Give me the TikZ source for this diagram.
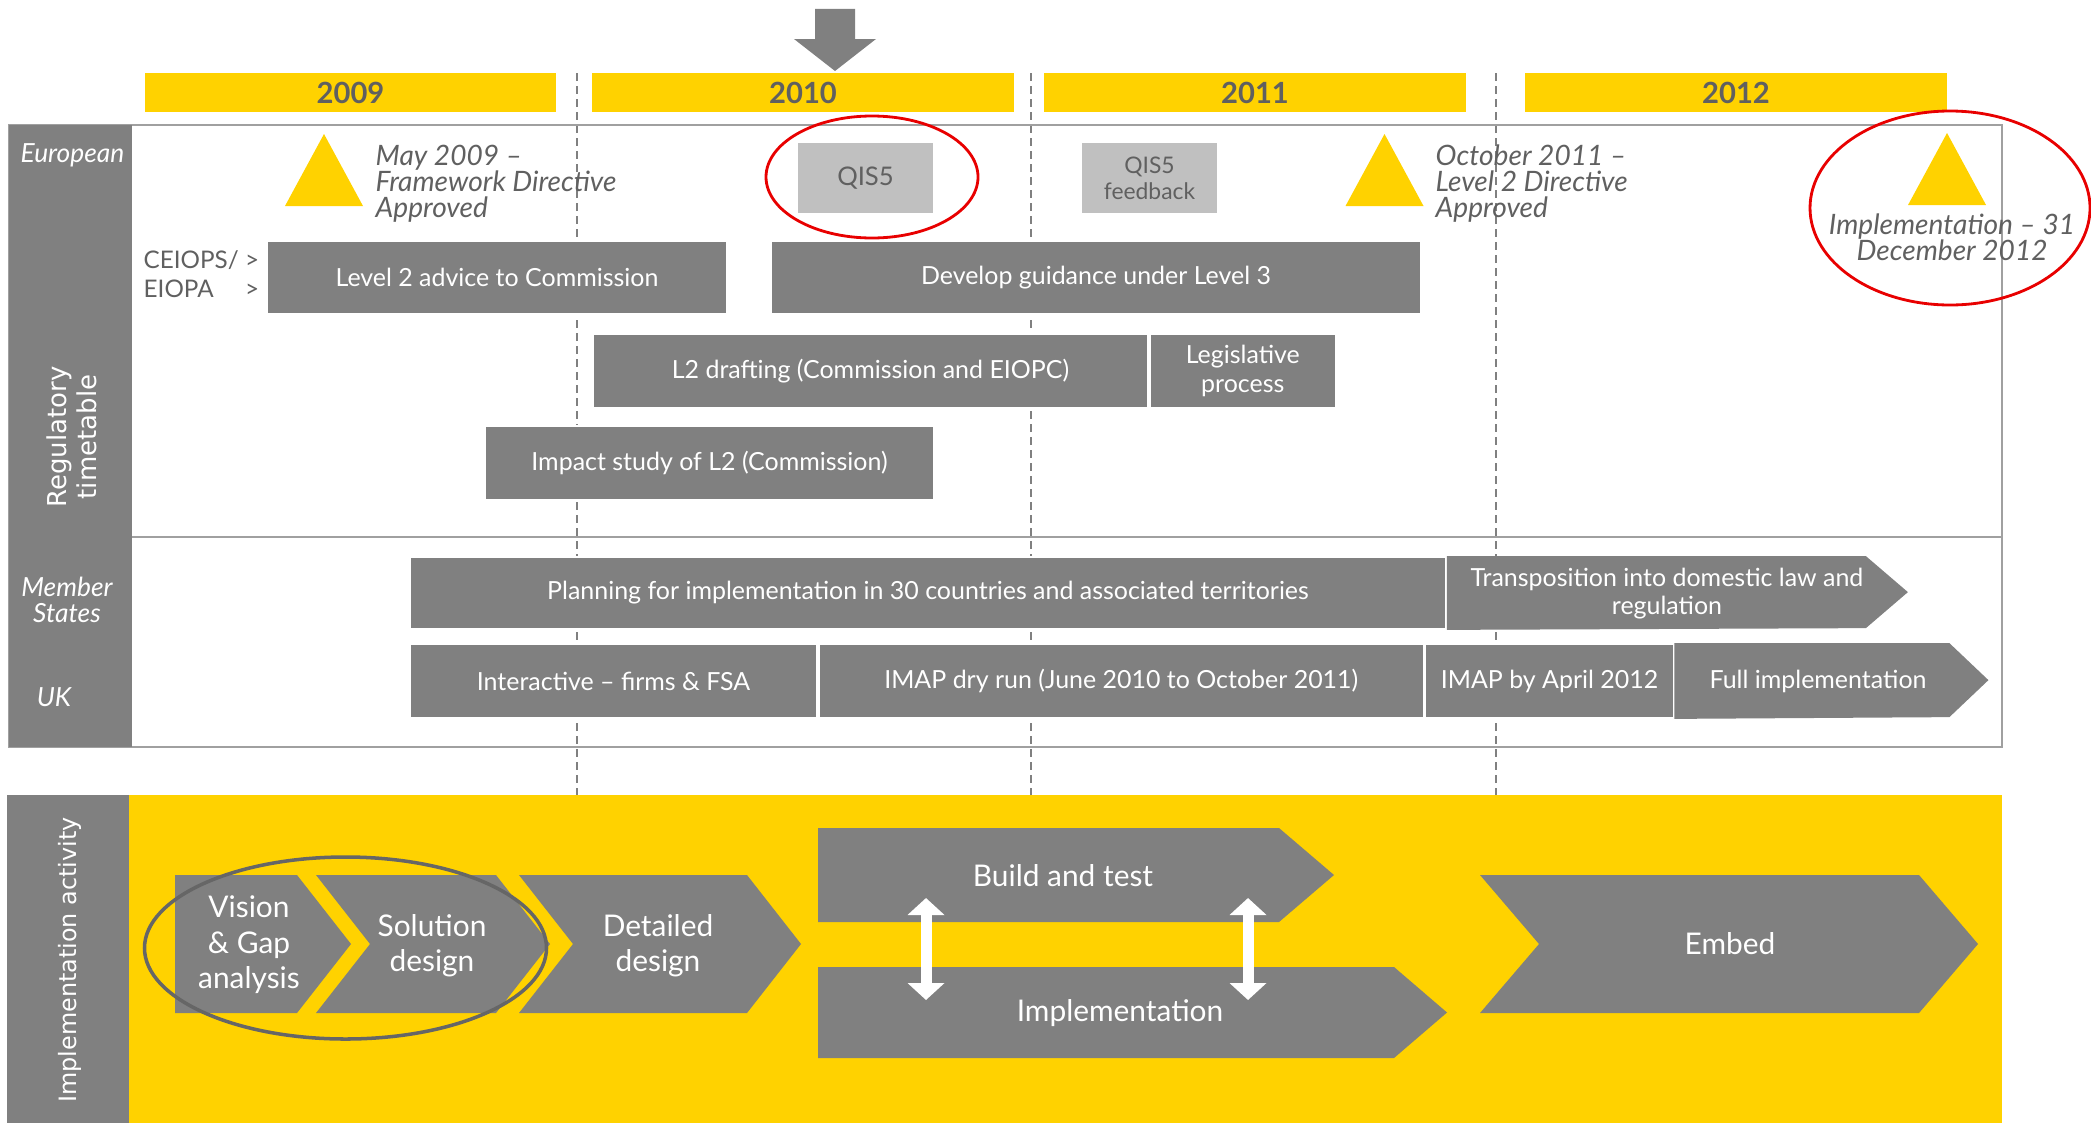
\documentclass[tikz,border=0pt]{standalone}
\usepackage{fontspec}
\setmainfont{Lato}
\newfontfamily\widefont{DejaVu Sans}
\usetikzlibrary{arrows.meta,positioning}

\definecolor{eyyellow}{RGB}{255,210,0}
\definecolor{boxgray}{RGB}{128,128,128}
\definecolor{lightbox}{RGB}{192,192,192}
\definecolor{textgray}{RGB}{96,96,96}
\definecolor{framegray}{RGB}{160,160,160}
\definecolor{ringred}{RGB}{232,0,0}
\definecolor{ringgray}{RGB}{102,102,102}

\begin{document}
\begin{tikzpicture}[
    y=-1cm,
    yearbar/.style={rectangle, fill=eyyellow, text=textgray, font=\fontsize{8.3}{9}\selectfont\bfseries, minimum height=0.39cm, inner sep=0pt},
    bar/.style={rectangle, fill=boxgray, draw=white, line width=0.5pt, text=white, font=\fontsize{7.1}{8.2}\selectfont, align=center, inner sep=0pt},
    bartext/.style={text=white, font=\fontsize{7.1}{8.2}\selectfont, align=center, inner sep=0pt},
    qis/.style={rectangle, fill=lightbox, text=textgray, minimum width=1.35cm, minimum height=0.70cm, align=center, inner sep=0pt},
    milestone/.style={text=textgray, font=\fontsize{8}{7.4}\selectfont\itshape, align=left, anchor=west, inner sep=0pt},
    side/.style={text=white, font=\fontsize{7.5}{7.4}\selectfont\itshape, align=center, inner sep=0pt},
    sidewide/.style={text=white, font=\widefont\fontsize{7.4}{8.5}\selectfont, align=center, rotate=90, inner sep=0pt},
    chev/.style={fill=boxgray},
    chevtext/.style={text=white, font=\fontsize{8.5}{10.1}\selectfont, align=center, inner sep=0pt},
    ring/.style={draw=ringred, line width=0.8pt},
    bothway/.style={draw=white, line width=1.1mm, {Triangle[width=3.6mm,length=1.7mm]}-{Triangle[width=3.6mm,length=1.7mm]}}
]
    \useasboundingbox (0,0) rectangle (20.91,11.23);

    % years
    \fill[boxgray] (8.15,0.09) -- (8.55,0.09) -- (8.55,0.39) -- (8.76,0.39) -- (8.35,0.71) -- (7.94,0.39) -- (8.15,0.39) -- cycle;
    \foreach \yr/\x/\w in {2009/3.505/4.11, 2010/8.03/4.22, 2011/12.55/4.22, 2012/17.36/4.22}
        \node[yearbar, minimum width=\w cm] (y\yr) at (\x,0.925) {\yr};
    \foreach \x in {5.77, 10.31, 14.96}
        \draw[boxgray, line width=0.4pt, dash pattern=on 0.08cm off 0.05cm] (\x,0.73) -- (\x,7.95);

    % regulatory timetable frame
    \draw[framegray, line width=0.6pt] (0.09,1.25) rectangle (20.02,7.47);
    \draw[framegray, line width=0.6pt] (1.32,5.37) -- (20.02,5.37);
    \fill[boxgray] (0.09,1.25) rectangle (1.32,7.47);
    \node[side] (european) at (0.725,1.55) {European};
    \node[sidewide] (regtime) at (0.72,4.37) {Regulatory\\timetable};
    \node[side] (member) at (0.67,6.0) {Member\\States};
    \node[side] (uk) at (0.54,6.97) {UK};

    % milestones
    \foreach \x/\y in {3.24/1.34, 13.845/1.34, 19.47/1.33}
        \fill[eyyellow] (\x,\y) -- ++(0.39,0.72) -- ++(-0.78,0) -- cycle;
    \node[milestone] (may09) at (3.75,1.84) {May 2009 \textendash\\Framework Directive\\Approved};
    \node[milestone] (oct11) at (14.35,1.84) {October 2011 \textendash\\Level 2 Directive\\Approved};
    \node[milestone, anchor=center, align=center] (dec12) at (19.52,2.37) {Implementation \textendash{} 31\\December 2012};
    \node[qis, font=\fontsize{7.3}{8}\selectfont] (qis5) at (8.655,1.78) {QIS5};
    \node[qis, font=\fontsize{6.5}{7.4}\selectfont] (qisfb) at (11.495,1.78) {QIS5\\feedback};
    \draw[ring] (8.72,1.77) ellipse [x radius=1.06cm, y radius=0.61cm];
    \draw[ring] (19.50,2.08) ellipse [x radius=1.40cm, y radius=0.97cm];

    % european bars
    \node[text=textgray, font=\fontsize{6.9}{8.2}\selectfont, anchor=west, inner sep=0pt] (ceiops) at (1.43,2.775)
        {\begin{tabular}{@{}l@{\ }l@{}}CEIOPS/ & >\\EIOPA & >\end{tabular}};
    \node[bar, minimum width=4.60cm, minimum height=0.73cm] (l2advice) at (4.97,2.775) {Level 2 advice to Commission};
    \node[bar, minimum width=6.50cm, minimum height=0.73cm] (guidance) at (10.96,2.775) {Develop guidance under Level 3};
    \node[bar, minimum width=5.55cm, minimum height=0.74cm] (drafting) at (8.705,3.71) {L2 drafting (Commission and EIOPC)};
    \node[bar, minimum width=1.86cm, minimum height=0.74cm, right=0pt of drafting] (legis) {Legislative\\process};
    \node[bar, minimum width=4.49cm, minimum height=0.74cm] (impact) at (7.095,4.63) {Impact study of L2 (Commission)};

    % member states and UK
    \node[bar, minimum width=10.36cm, minimum height=0.72cm] (planning) at (9.28,5.93) {Planning for implementation in 30 countries and associated territories};
    \fill[boxgray] (planning.north east) -- ++(4.19,0) -- ++(0.42,0.36) -- ++(-0.42,0.36) -- (planning.south east) -- cycle;
    \node[bartext] (transpose) at (16.67,5.935) {Transposition into domestic law and\\regulation};
    \node[bar, minimum width=4.07cm, minimum height=0.74cm] (interactive) at (6.135,6.81) {Interactive \textendash{} firms \& FSA};
    \node[bar, minimum width=6.05cm, minimum height=0.74cm, right=0pt of interactive] (dryrun) {IMAP dry run (June 2010 to October 2011)};
    \node[bar, minimum width=2.48cm, minimum height=0.74cm, right=0pt of dryrun] (april) {IMAP by April 2012};
    \fill[boxgray] (april.north east) -- ++(2.75,0) -- ++(0.39,0.37) -- ++(-0.39,0.37) -- (april.south east) -- cycle;
    \node[bartext] (fullimpl) at (18.18,6.81) {Full implementation};

    % implementation activity
    \fill[eyyellow] (1.29,7.95) rectangle (20.02,11.23);
    \fill[boxgray] (0.07,7.95) rectangle (1.29,11.23);
    \node[sidewide, font=\widefont\fontsize{6.8}{8}\selectfont] (implact) at (0.70,9.60) {Implementation activity};
    \fill[chev] (1.75,8.75) -- (2.97,8.75) -- (3.51,9.44) -- (2.97,10.13) -- (1.75,10.13) -- cycle;
    \foreach \l/\r/\d in {3.16/4.96/0.54, 5.19/7.47/0.54, 14.80/19.19/0.59}
        \fill[chev] (\l,8.75) -- (\r,8.75) -- ++(\d,0.69) -- (\r,10.13) -- (\l,10.13) -- ++(\d,-0.69) -- cycle;
    \fill[chev] (8.18,8.28) -- (12.79,8.28) -- (13.34,8.75) -- (12.79,9.22) -- (8.18,9.22) -- cycle;
    \fill[chev] (8.18,9.67) -- (13.94,9.67) -- (14.47,10.125) -- (13.94,10.58) -- (8.18,10.58) -- cycle;
    \node[chevtext] (vision) at (2.49,9.45) {Vision\\\& Gap\\analysis};
    \node[chevtext] (solution) at (4.32,9.455) {Solution\\design};
    \node[chevtext] (detailed) at (6.58,9.455) {Detailed\\design};
    \node[chevtext] (build) at (10.63,8.76) {Build and test};
    \node[chevtext] (implement) at (11.20,10.13) {Implementation};
    \node[chevtext] (embed) at (17.30,9.44) {Embed};
    \draw[ringgray, line width=1pt] (3.455,9.48) ellipse [x radius=2.01cm, y radius=0.91cm];

    \coordinate (bt1) at (9.26,8.98);
    \coordinate (im1) at (9.26,10.00);
    \coordinate (bt2) at (12.48,8.98);
    \coordinate (im2) at (12.48,10.00);
    \draw[bothway] (bt1) -- (im1);
    \draw[bothway] (bt2) -- (im2);
\end{tikzpicture}
\end{document}
